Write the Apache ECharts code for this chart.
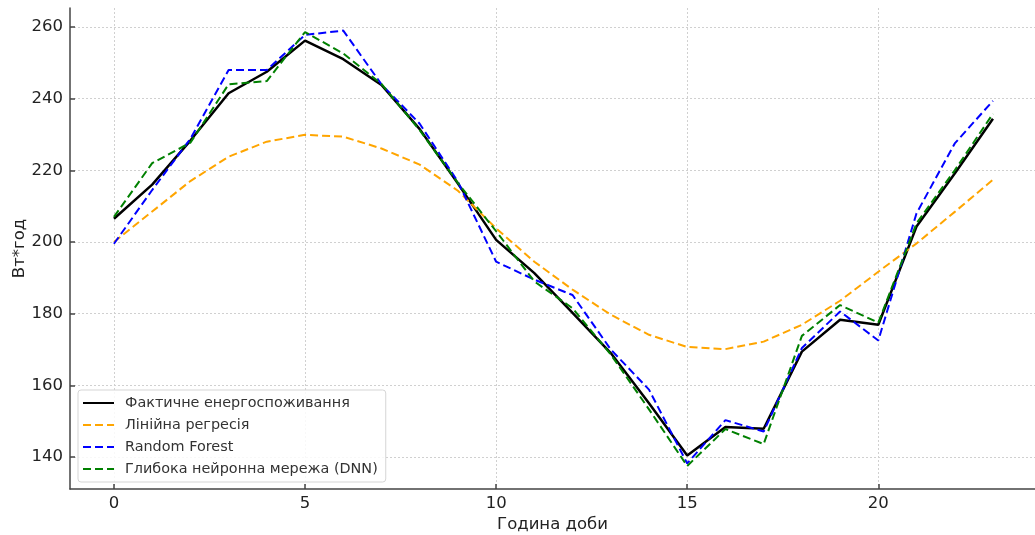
<!DOCTYPE html>
<html>
<head>
<meta charset="utf-8">
<script src="https://cdn.jsdelivr.net/npm/echarts@6/dist/echarts.min.js"></script>
<style>html,body{margin:0;padding:0;background:#fff}#c{width:1035px;height:535px}</style>
</head>
<body>
<div id="c"></div>
<script>
const hours = [0,1,2,3,4,5,6,7,8,9,10,11,12,13,14,15,16,17,18,19,20,21,22,23];
const actual = [206.5,216,228.3,241.5,247.5,256.2,251,243.8,231.5,216.3,200.6,191.3,180.2,169,155,140.4,148.4,147.9,169.4,178.3,176.9,204.3,219.1,234.4];
const linReg = [200,208.5,217,223.8,228,229.9,229.4,226.1,221.6,214.3,203.8,194.5,186.7,179.7,174.1,170.7,170.1,172.2,176.9,183.6,191.7,199.6,208.4,217.4];
const randomForest = [199.5,214.5,228.8,248,248,257.8,259,244,233,216.8,194.5,189.5,185.2,170,158.8,138.2,150.3,147.1,170.4,180.6,172.5,208,227.5,239.4];
const dnn = [207,222,227.7,244,244.9,258.6,252.6,244.1,231.2,216.5,203,189,181.5,168.6,153.3,137.5,147.8,143.6,173.8,182.4,177.5,205.2,220,235.8];
const xTicks = [0,5,10,15,20];
const yTicks = [140,160,180,200,220,240,260];
const names = ['Фактичне енергоспоживання','Лінійна регресія','Random Forest','Глибока нейронна мережа (DNN)'];

const pair = arr => hours.map((h,i)=>[h,arr[i]]);
const font = 'DejaVu Sans';
const gridLine = {show:true,lineStyle:{color:'#d0d0d0',width:1,type:[2,2]}};
const axisLineStyle = {show:true,onZero:false,lineStyle:{color:'#444',width:1.5}};

const chart = echarts.init(document.getElementById('c'),null,{renderer:'canvas'});
function mk(name, data, color, width, dashed, z){
  return {name, type:'line', data:pair(data), symbol:'none', showSymbol:false, z,
    lineStyle:{color, width, type: dashed ? [8,4] : 'solid'}, itemStyle:{color}, animation:false};
}
chart.setOption({
  animation:false,
  textStyle:{fontFamily:font},
  grid:{left:70,right:0,top:8,bottom:46,containLabel:false,outerBoundsMode:'none'},
  legend:{
    orient:'vertical', left:78, top:390,
    data:names,
    itemWidth:31, itemHeight:14, itemGap:8,
    padding:[6,8,6,4],
    itemStyle:{opacity:0},
    backgroundColor:'rgba(255,255,255,0.85)',
    borderColor:'#d5d5d5', borderWidth:1, borderRadius:3,
    textStyle:{fontFamily:font,fontSize:14.4,color:'#333',padding:[0,0,0,6]}
  },
  xAxis:{
    type:'value', min:-1.15, max:24.1,
    name:'Година доби', nameLocation:'middle', nameGap:27, nameMoveOverlap:false,
    nameTextStyle:{fontFamily:font,fontSize:16.5,color:'#222'},
    axisLine:axisLineStyle,
    axisTick:{show:true,inside:true,length:5,customValues:xTicks,lineStyle:{color:'#444',width:1.5}},
    axisLabel:{customValues:xTicks,fontFamily:font,fontSize:16.5,color:'#222',margin:6},
    splitLine:gridLine
  },
  yAxis:{
    type:'value', min:131.07, max:265.3,
    name:'Вт*год', nameLocation:'middle', nameGap:42, nameRotate:90, nameMoveOverlap:false,
    nameTextStyle:{fontFamily:font,fontSize:16.5,color:'#222'},
    axisLine:axisLineStyle,
    axisTick:{show:true,inside:true,length:5,customValues:yTicks,lineStyle:{color:'#444',width:1.5}},
    axisLabel:{customValues:yTicks,fontFamily:font,fontSize:16.5,color:'#222',margin:7},
    splitLine:gridLine
  },
  series:[
    mk(names[0], actual, '#000000', 2.5, false, 2),
    mk(names[1], linReg, '#FFA500', 2, true, 3),
    mk(names[2], randomForest, '#0000FF', 2, true, 4),
    mk(names[3], dnn, '#008000', 2, true, 5)
  ]
});
</script>
</body>
</html>
